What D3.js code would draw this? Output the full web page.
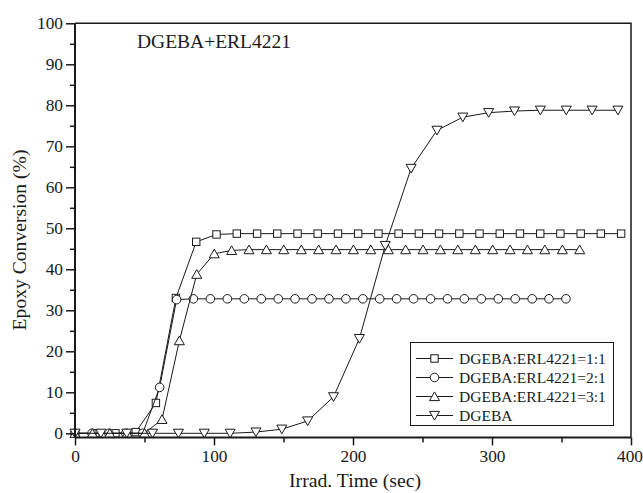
<!DOCTYPE html>
<html>
<head>
<meta charset="utf-8">
<script src="https://cdn.jsdelivr.net/npm/d3@7"></script>
<style>
  html, body { margin: 0; padding: 0; background: #fff; }
  svg { display: block; }
  text { font-family: "Liberation Serif", "Times New Roman", "DejaVu Serif", serif; fill: #1a1a1a; }
</style>
</head>
<body>
<svg id="chart" width="643" height="493"></svg>
<script>
// ---- data ----
const seriesNames = ["DGEBA:ERL4221=1:1", "DGEBA:ERL4221=2:1", "DGEBA:ERL4221=3:1", "DGEBA"];
const titleText = "DGEBA+ERL4221";
const xTicks = [0, 100, 200, 300, 400];
const xMinorTicks = [50, 150, 250, 350];
const yTicks = [0, 10, 20, 30, 40, 50, 60, 70, 80, 90, 100];
const yMinorTicks = [5, 15, 25, 35, 45, 55, 65, 75, 85, 95];

const time11 = [0, 14.6, 29.1, 43.7, 58.2, 72.6, 87.2, 101.8, 116.4, 131.0, 145.5, 160.1, 174.6, 189.2, 203.7, 218.3, 232.8, 247.4, 261.9, 276.5, 291.0, 305.6, 320.1, 334.7, 349.2, 363.8, 378.3, 392.9];
const conv11 = [0, 0, 0, 0.3, 7.4, 33.0, 46.7, 48.5, 48.7, 48.7, 48.7, 48.7, 48.7, 48.7, 48.7, 48.7, 48.7, 48.7, 48.7, 48.7, 48.7, 48.7, 48.7, 48.7, 48.7, 48.7, 48.7, 48.7];

const time21 = [0, 12.2, 24.4, 36.5, 48.7, 60.9, 73.1, 85.2, 97.4, 109.6, 121.8, 134.0, 146.2, 158.3, 170.5, 182.7, 194.9, 207.1, 219.2, 231.4, 243.6, 255.8, 268.0, 280.1, 292.3, 304.5, 316.7, 328.9, 341.0, 353.2];
const conv21 = [0, 0, 0, 0, 0, 11.2, 32.6, 32.8, 32.8, 32.8, 32.8, 32.8, 32.8, 32.8, 32.8, 32.8, 32.8, 32.8, 32.8, 32.8, 32.8, 32.8, 32.8, 32.8, 32.8, 32.8, 32.8, 32.8, 32.8, 32.8];

const time31 = [0, 12.5, 25.0, 37.6, 50.1, 62.6, 75.1, 87.6, 100.2, 112.7, 125.2, 137.7, 150.2, 162.8, 175.3, 187.8, 200.3, 212.8, 225.4, 237.9, 250.4, 262.9, 275.4, 288.0, 300.5, 313.0, 325.5, 338.0, 350.6, 363.1];
const conv31 = [0, 0, 0, 0, 0, 3.4, 22.6, 38.8, 43.8, 44.6, 44.8, 44.8, 44.8, 44.8, 44.8, 44.8, 44.8, 44.8, 44.8, 44.8, 44.8, 44.8, 44.8, 44.8, 44.8, 44.8, 44.8, 44.8, 44.8, 44.8];

const timeDG = [0, 18.6, 37.2, 55.8, 74.4, 93.0, 111.6, 130.2, 148.8, 167.4, 186.0, 204.6, 223.2, 241.8, 260.4, 279.0, 297.6, 316.2, 334.8, 353.4, 372.0, 390.6];
const convDG = [0, 0, 0, 0, 0, 0, 0, 0.3, 1.0, 3.0, 8.9, 23.1, 45.8, 64.6, 73.9, 77.1, 78.2, 78.6, 78.8, 78.8, 78.8, 78.8];

const symbolsUsed = ["square", "circle", "triangle", "triangleDown"];

// ---- layout ----
const FONT = "'Liberation Serif', 'Times New Roman', 'DejaVu Serif', serif";
const svg = d3.select("#chart");
const x = d3.scaleLinear().domain([0, 400]).range([75, 631]);
const y = d3.scaleLinear().domain([-1, 100]).range([437.4, 23.3]);

const series = [
  { name: seriesNames[0], t: time11, v: conv11, sym: symbolsUsed[0] },
  { name: seriesNames[1], t: time21, v: conv21, sym: symbolsUsed[1] },
  { name: seriesNames[2], t: time31, v: conv31, sym: symbolsUsed[2] },
  { name: seriesNames[3], t: timeDG, v: convDG, sym: symbolsUsed[3] }
];

// scale a text's font size so its width matches the reference width
function fitWidth(sel, target) {
  const node = sel.node();
  const w = node.getComputedTextLength();
  const fs = parseFloat(sel.style("font-size"));
  const nfs = fs * target / w;
  sel.style("font-size", nfs + "px");
  return nfs;
}

function drawMarker(g, sym, cx, cy) {
  const stroke = "#1a1a1a";
  if (sym === "square") {
    g.append("rect").attr("x", cx - 3.7).attr("y", cy - 3.7).attr("width", 7.4).attr("height", 7.4)
      .attr("fill", "#fff").attr("stroke", stroke).attr("stroke-width", 1);
  } else if (sym === "circle") {
    g.append("circle").attr("cx", cx).attr("cy", cy).attr("r", 4.3)
      .attr("fill", "#fff").attr("stroke", stroke).attr("stroke-width", 1);
  } else if (sym === "triangle") {
    const w = 5.0, h = 8.2;
    g.append("path").attr("d", `M${cx},${cy - h / 2 - 0.5}L${cx + w},${cy + h / 2}L${cx - w},${cy + h / 2}Z`)
      .attr("fill", "#fff").attr("stroke", stroke).attr("stroke-width", 1);
  } else {
    const w = 5.0, h = 8.2;
    g.append("path").attr("d", `M${cx},${cy + h / 2 + 0.5}L${cx + w},${cy - h / 2}L${cx - w},${cy - h / 2}Z`)
      .attr("fill", "#fff").attr("stroke", stroke).attr("stroke-width", 1);
  }
}

// frame (top/right)
svg.append("path")
  .attr("d", `M${x(0)},${y(100)}H${x(400)}V${y(-1)}`)
  .attr("fill", "none").attr("stroke", "#1a1a1a").attr("stroke-width", 1.5);

// data
const line = d3.line().x(d => x(d[0])).y(d => y(d[1]));
series.forEach(s => {
  const pts = s.t.map((t, i) => [t, s.v[i]]);
  const g = svg.append("g");
  g.append("path").attr("d", line(pts)).attr("fill", "none")
    .attr("stroke", "#1a1a1a").attr("stroke-width", 1);
  pts.forEach(p => drawMarker(g, s.sym, x(p[0]), y(p[1])));
});

// axes
const xAxisG = svg.append("g").attr("transform", `translate(0,${y(-1)})`);
xAxisG.call(d3.axisBottom(x).tickValues(xTicks).tickSize(8).tickPadding(4).tickFormat(d3.format("d")));
const xMinorG = svg.append("g").attr("transform", `translate(0,${y(-1)})`);
xMinorG.call(d3.axisBottom(x).tickValues(xMinorTicks).tickSize(5).tickFormat(""));

const yAxisG = svg.append("g").attr("transform", `translate(${x(0)},0)`);
yAxisG.call(d3.axisLeft(y).tickValues(yTicks).tickSize(9).tickPadding(3).tickFormat(d3.format("d")));
const yMinorG = svg.append("g").attr("transform", `translate(${x(0)},0)`);
yMinorG.call(d3.axisLeft(y).tickValues(yMinorTicks).tickSize(5).tickFormat(""));

[xAxisG, xMinorG, yAxisG, yMinorG].forEach(g => {
  g.attr("font-family", FONT);
  g.select(".domain").attr("stroke", "#1a1a1a").attr("stroke-width", 2);
  g.selectAll(".tick line").attr("stroke", "#1a1a1a").attr("stroke-width", 1.5);
  g.selectAll(".tick text").style("font-family", FONT).style("font-size", "18px").attr("fill", "#1a1a1a");
});
xAxisG.select(".domain").attr("d", `M${x(0)},0H${x(400)}`);
xMinorG.select(".domain").remove();
yAxisG.select(".domain").attr("d", `M0,${y(-1)}V${y(100)}`);
yMinorG.select(".domain").remove();

// size tick labels to the reference ("100" is about 26px wide)
const ref100 = yAxisG.selectAll(".tick text").filter(d => d === 100);
const tickFs = fitWidth(ref100, 26);
xAxisG.selectAll(".tick text").style("font-size", tickFs + "px");
yAxisG.selectAll(".tick text").style("font-size", tickFs + "px");
xAxisG.selectAll(".tick text").filter(d => d === 400).attr("dx", "-1.5");

// axis titles
const xl = svg.append("text").attr("x", 355).attr("y", 487)
  .attr("text-anchor", "middle").style("font-family", FONT).style("font-size", "19px").text("Irrad. Time (sec)");
fitWidth(xl, 132);
const yl = svg.append("text").attr("transform", "translate(26,240) rotate(-90)")
  .attr("text-anchor", "middle").style("font-family", FONT).style("font-size", "19px").text("Epoxy Conversion (%)");
fitWidth(yl, 181);

// chart title
const tt = svg.append("text").attr("x", 137).attr("y", 48).style("font-family", FONT).style("font-size", "19px").text(titleText);
fitWidth(tt, 154);

// legend
const lg = svg.append("g");
lg.append("rect").attr("x", 410.5).attr("y", 342.5).attr("width", 203).attr("height", 83)
  .attr("fill", "#fff").attr("stroke", "#1a1a1a").attr("stroke-width", 1);
let legendFs = null;
series.forEach((s, i) => {
  const cy = 358.5 + i * 19;
  lg.append("line").attr("x1", 416).attr("x2", 453).attr("y1", cy).attr("y2", cy)
    .attr("stroke", "#1a1a1a").attr("stroke-width", 1);
  drawMarker(lg, s.sym, 434.5, cy);
  const t = lg.append("text").attr("x", 459).attr("y", cy + 5.5)
    .style("font-family", FONT).style("font-size", "15.5px").text(s.name);
  if (i === 0) legendFs = fitWidth(t, 147);
  else t.style("font-size", legendFs + "px");
});
</script>
</body>
</html>
